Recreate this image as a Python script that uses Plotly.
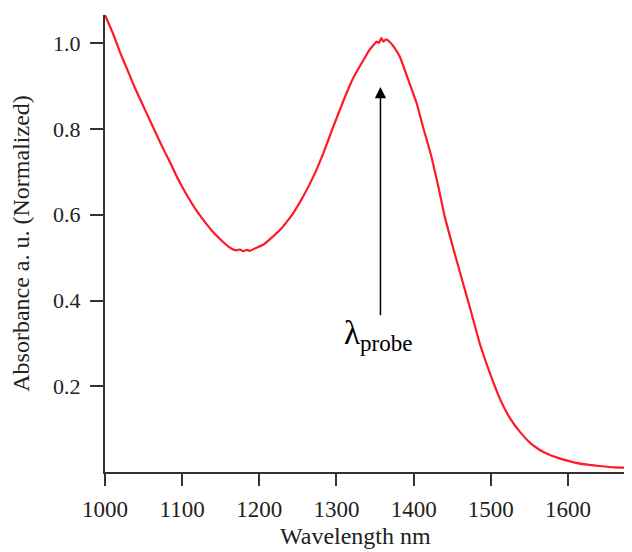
import plotly.graph_objects as go

wavelength = [1000, 1011, 1019, 1030, 1039, 1050, 1058, 1067, 1076, 1086, 1095, 1106, 1117, 1125,
              1138, 1151, 1162, 1170, 1175, 1179, 1184, 1188, 1195, 1205, 1215, 1227, 1237, 1244,
              1257, 1270, 1283, 1296, 1309, 1322, 1335, 1343, 1348, 1352, 1355, 1358, 1361, 1364,
              1369, 1375, 1382, 1393, 1404, 1412, 1423, 1432, 1440, 1451, 1462, 1473, 1486, 1499,
              1512, 1525, 1538, 1551, 1563, 1576, 1592, 1609, 1625, 1641, 1660, 1683]
absorbance = [1.066, 1.020, 0.981, 0.934, 0.895, 0.852, 0.821, 0.786, 0.752, 0.716, 0.682, 0.646, 0.614, 0.594,
              0.564, 0.540, 0.523, 0.517, 0.519, 0.515, 0.518, 0.516, 0.522, 0.530, 0.545, 0.565, 0.587, 0.604,
              0.643, 0.689, 0.744, 0.806, 0.866, 0.920, 0.961, 0.985, 0.996, 1.004, 1.001, 1.012, 1.004, 1.009,
              1.003, 0.990, 0.969, 0.915, 0.860, 0.806, 0.736, 0.666, 0.598, 0.524, 0.453, 0.383, 0.298, 0.230,
              0.170, 0.125, 0.093, 0.068, 0.052, 0.040, 0.030, 0.022, 0.017, 0.014, 0.011, 0.010]

x_ticks = [1000, 1100, 1200, 1300, 1400, 1500, 1600]
y_ticks = [0.2, 0.4, 0.6, 0.8, 1.0]
y_tick_labels = ["0.2", "0.4", "0.6", "0.8", "1.0"]

arrow_x = 1357
arrow_tip = 0.898
arrow_tail = 0.362
label_x = 1354
label_y = 0.371

FONT = "Liberation Serif, Times New Roman, serif"
AX = "#333333"

fig = go.Figure()
fig.add_trace(go.Scatter(
    x=wavelength, y=absorbance, mode="lines",
    line=dict(color="rgb(255,25,40)", width=2.2, shape="spline", smoothing=0.4),
    showlegend=False, hoverinfo="skip",
))

fig.add_annotation(
    x=arrow_x, y=arrow_tip, ax=arrow_x, ay=arrow_tail,
    xref="x", yref="y", axref="x", ayref="y",
    text="", showarrow=True, arrowhead=2, arrowsize=1.5, arrowwidth=1.5,
    arrowcolor="black",
)
fig.add_annotation(
    x=label_x, y=label_y, xref="x", yref="y",
    text="λ<sub>probe</sub>", showarrow=False,
    xanchor="center", yanchor="top",
    font=dict(family=FONT, size=33, color="black"),
)
# x-axis title (sits slightly left of the plot centre in the reference)
fig.add_annotation(
    x=0.476, y=0, xref="paper", yref="paper",
    text="Wavelength nm", showarrow=False,
    xanchor="center", yanchor="top", yshift=-49,
    font=dict(family=FONT, size=24, color="#222222"),
)

# page body has an 8px default margin, so the figure is sized to fit the window
fig.update_layout(
    width=624, height=544,
    margin=dict(l=97, r=0, t=7, b=80),
    paper_bgcolor="white", plot_bgcolor="white",
    font=dict(family=FONT, size=22, color="#222222"),
    xaxis=dict(
        range=[1000, 1683], tickvals=x_ticks,
        showgrid=False, zeroline=False, automargin=False,
        showline=True, linecolor=AX, linewidth=2,
        ticks="outside", ticklen=12, tickwidth=2, tickcolor=AX,
        tickfont=dict(size=23), ticklabelstandoff=3,
    ),
    yaxis=dict(
        range=[0, 1.066], tickvals=y_ticks, ticktext=y_tick_labels,
        showgrid=False, zeroline=False, automargin=False,
        showline=True, linecolor=AX, linewidth=2,
        ticks="outside", ticklen=13, tickwidth=2, tickcolor=AX,
        ticklabelstandoff=5,
        title=dict(text="Absorbance a. u. (Normalized)", standoff=22, font=dict(size=24)),
    ),
)

fig.write_html("out.html")
